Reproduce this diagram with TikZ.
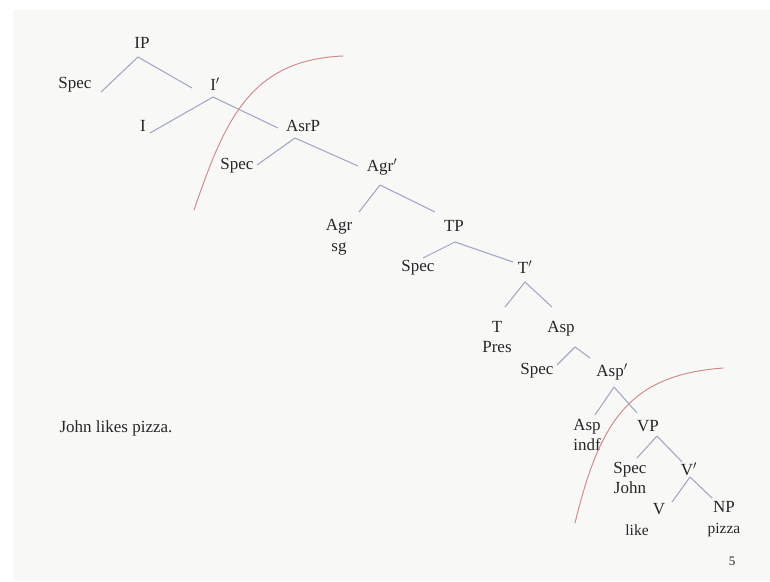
\documentclass[tikz,border=0pt]{standalone}
\usepackage{fontspec}
\setmainfont{Liberation Serif}
\usepackage{tikz}
\usepackage{xcolor}

\definecolor{slide}{HTML}{F8F9F7}
\definecolor{ink}{HTML}{262626}
\definecolor{branch}{HTML}{A2A9C3}
\definecolor{cut}{HTML}{CF8E8C}

\tikzset{
    label/.style = {text=ink, font=\fontsize{17}{20.5}\selectfont, inner sep=1pt, align=center},
    gloss/.style = {text=ink, font=\fontsize{15.5}{18}\selectfont, inner sep=1pt},
    edge/.style  = {draw=branch, line width=1.1pt},
    cutline/.style = {draw=cut, line width=1pt, line cap=round}
}

\begin{document}
\begin{tikzpicture}[x=1pt, y=-1pt]
        \fill[white] (0,0) rectangle (770,581);
        \fill[slide] (13,10) rectangle (770,581);
        \useasboundingbox (0,0) rectangle (770,581);

        \begin{scope}[every node/.style = {label}]
            \node (IP)     at (142,43)  {IP};
            \node (SpecA)  at (75,85)   {Spec};
            \node (IBar)   at (215,84)  {I$'$};
            \node (I)      at (143,126) {I};

            \node (AsrP)   at (303,126) {AsrP};
            \node (SpecB)  at (237,166) {Spec};
            \node (AgrBar) at (382,167) {Agr$'$};
            \node (Agr)    at (339,237) {Agr\\sg};

            \node (TP)     at (454,226) {TP};
            \node (SpecC)  at (418,268) {Spec};
            \node (TBar)   at (525,267) {T$'$};
            \node (T)      at (497,337) {T\\Pres};

            \node (AspP)   at (561,329) {Asp};
            \node (SpecD)  at (537,371) {Spec};
            \node (AspBar) at (612,372) {Asp$'$};
            \node (Asp)    at (587,435) {Asp\\indf};

            \node (VP)     at (648,426) {VP};
            \node (SpecE)  at (630,478) {Spec\\John};
            \node (VBar)   at (689,469) {V$'$};
            \node (V)      at (659,509) {V};
            \node (NP)     at (724,519) {NP\\{\fontsize{15.5}{18}\selectfont pizza}};

            \node (Sent)   at (116,428) {John likes pizza.};
            \node (Page)   at (732,561) {\fontsize{13}{15}\selectfont 5};
        \end{scope}
        \node[gloss] (Like) at (637,530) {like};

        % branches
        \draw[edge] ([shift={(-4,14)}]IP.center) -- ([shift={(26,7)}]SpecA.center);
        \draw[edge] ([shift={(-4,14)}]IP.center) -- ([shift={(-23,4)}]IBar.center);
        \draw[edge] ([shift={(-2,13)}]IBar.center) -- ([shift={(7,7)}]I.center);
        \draw[edge] ([shift={(-2,13)}]IBar.center) -- ([shift={(-25,2)}]AsrP.center);
        \draw[edge] ([shift={(-8,12)}]AsrP.center) -- ([shift={(20,-1)}]SpecB.center);
        \draw[edge] ([shift={(-8,12)}]AsrP.center) -- ([shift={(-24,-1)}]AgrBar.center);
        \draw[edge] ([shift={(-2,18)}]AgrBar.center) -- ([shift={(20,-25)}]Agr.center);
        \draw[edge] ([shift={(-2,18)}]AgrBar.center) -- ([shift={(-19,-14)}]TP.center);
        \draw[edge] ([shift={(1,16)}]TP.center) -- ([shift={(5,-10)}]SpecC.center);
        \draw[edge] ([shift={(1,16)}]TP.center) -- ([shift={(-12,-5)}]TBar.center);
        \draw[edge] ([shift={(0,15)}]TBar.center) -- ([shift={(8,-30)}]T.center);
        \draw[edge] ([shift={(0,15)}]TBar.center) -- ([shift={(-9,-22)}]AspP.center);
        \draw[edge] ([shift={(14,18)}]AspP.center) -- ([shift={(20,-6)}]SpecD.center);
        \draw[edge] ([shift={(14,18)}]AspP.center) -- ([shift={(-22,-14)}]AspBar.center);
        \draw[edge] ([shift={(2,15)}]AspBar.center) -- ([shift={(8,-20)}]Asp.center);
        \draw[edge] ([shift={(2,15)}]AspBar.center) -- ([shift={(-11,-13)}]VP.center);
        \draw[edge] ([shift={(9,10)}]VP.center) -- ([shift={(7,-20)}]SpecE.center);
        \draw[edge] ([shift={(9,10)}]VP.center) -- ([shift={(-7,-7)}]VBar.center);
        \draw[edge] ([shift={(1,8)}]VBar.center) -- ([shift={(13,-7)}]V.center);
        \draw[edge] ([shift={(1,8)}]VBar.center) -- ([shift={(-12,-21)}]NP.center);

        % the two cuts
        \draw[cutline] (194,210) .. controls (225,120) and (250,60) .. (343,56);
        \draw[cutline] (575,523) .. controls (600,420) and (630,375) .. (723,368);
\end{tikzpicture}
\end{document}
